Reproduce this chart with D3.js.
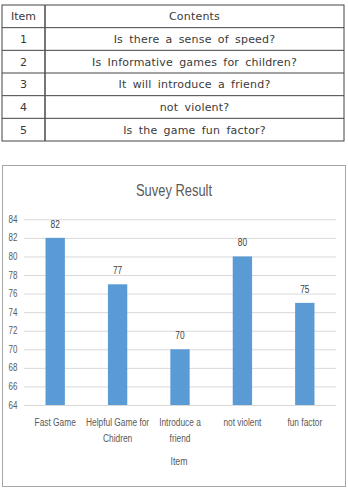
<!DOCTYPE html>
<html>
  <head>
    <meta charset="utf-8">
    <title>Suvey Result</title>
    <style>
      body { margin: 0; background: #fff; }
    </style>
  </head>
  <body>
    <script src="https://cdn.jsdelivr.net/npm/d3@7"></script>
    <script type="text/javascript">
      var itemNos = ["1", "2", "3", "4", "5"];
      var questions = [
        "Is there a sense of speed?",
        "Is Informative games for children?",
        "It will introduce a friend?",
        "not violent?",
        "Is the game fun factor?"
      ];
      var categories = [
        ["Fast Game"],
        ["Helpful Game for", "Chidren"],
        ["Introduce a", "friend"],
        ["not violent"],
        ["fun factor"]
      ];
      var values = [82, 77, 70, 80, 75];
      var yTicks = [64, 66, 68, 70, 72, 74, 76, 78, 80, 82, 84];

      var width = 348, height = 488;
      var svg = d3.select("body").append("svg")
                  .attr("width", width)
                  .attr("height", height);

      // ---- table ----
      var tFont = "'DejaVu Sans', sans-serif";
      var rowY = d3.scaleBand().domain(d3.range(6)).range([5, 141]);
      var tl = 2, tr = 344, tdiv = 45;
      var table = svg.append("g");
      table.append("rect")
           .attr("x", tl).attr("y", 5)
           .attr("width", tr - tl).attr("height", 136)
           .attr("fill", "none").attr("stroke", "#444").attr("stroke-width", 1);
      table.selectAll("line.h")
           .data(d3.range(1, 6))
           .enter().append("line")
           .attr("x1", tl).attr("x2", tr)
           .attr("y1", function(d) { return rowY(d); })
           .attr("y2", function(d) { return rowY(d); })
           .attr("stroke", "#444");
      table.append("line")
           .attr("x1", tdiv).attr("x2", tdiv)
           .attr("y1", 5).attr("y2", 141)
           .attr("stroke", "#555").attr("stroke-width", 1.6);

      var rows = [["Item", "Contents"]].concat(itemNos.map(function(n, i) { return [n, questions[i]]; }));
      var tr_ = table.selectAll("g.row").data(rows).enter().append("g")
           .attr("transform", function(d, i) { return "translate(0," + (rowY(i) + rowY.bandwidth() / 2) + ")"; });
      tr_.append("text")
         .attr("x", (tl + tdiv) / 2)
         .attr("dy", "0.36em")
         .attr("text-anchor", "middle")
         .attr("font-family", tFont).attr("font-size", 11)
         .attr("fill", "#3a3a3a")
         .text(function(d) { return d[0]; });
      tr_.append("text")
         .attr("x", (tdiv + tr) / 2)
         .attr("dy", "0.36em")
         .attr("text-anchor", "middle")
         .attr("font-family", tFont).attr("font-size", 11)
         .attr("letter-spacing", 0.2)
         .attr("word-spacing", 2.5)
         .attr("fill", "#3a3a3a")
         .text(function(d) { return d[1]; });

      // ---- chart ----
      // narrow Calibri-like look: Liberation Sans squeezed horizontally
      var cFont = "'Liberation Sans', Arial, sans-serif";
      var squeeze = 0.76;
      function narrowText(g, x, y, size, color, txt) {
        return g.append("text")
          .attr("transform", "translate(" + x + "," + y + ") scale(" + squeeze + ",1)")
          .attr("text-anchor", "middle")
          .attr("font-family", cFont).attr("font-size", size)
          .attr("fill", color)
          .text(txt);
      }

      svg.append("rect")
         .attr("x", 2.5).attr("y", 165.5)
         .attr("width", 343).attr("height", 321)
         .attr("fill", "#fff").attr("stroke", "#a6a6a6");

      narrowText(svg, 174, 196, 17, "#595959", "Suvey Result");

      var x = d3.scaleBand().domain(d3.range(values.length)).range([24, 336]).paddingInner(0.69).paddingOuter(0.345);
      var y = d3.scaleLinear().domain([64, 84]).range([405, 219.3]);

      var grid = svg.append("g")
          .attr("transform", "translate(24,0)")
          .call(d3.axisLeft(y).tickValues(yTicks).tickSize(-312).tickPadding(6).tickFormat(function() { return ""; }));
      grid.select(".domain").remove();
      grid.selectAll(".tick line").attr("stroke", "#d9d9d9");

      var yl = svg.append("g");
      yTicks.forEach(function(t) {
        narrowText(yl, 13, y(t) + 3.5, 10.5, "#595959", t);
      });

      svg.append("g").selectAll("rect")
         .data(values).enter().append("rect")
         .attr("x", function(d, i) { return x(i); })
         .attr("width", x.bandwidth())
         .attr("y", function(d) { return y(d); })
         .attr("height", function(d) { return y(64) - y(d); })
         .attr("fill", "#5b9bd5");

      var vl = svg.append("g");
      values.forEach(function(v, i) {
        narrowText(vl, x(i) + x.bandwidth() / 2, y(v) - 10, 11, "#404040", v);
      });

      var xl = svg.append("g");
      categories.forEach(function(lines, i) {
        lines.forEach(function(s, j) {
          narrowText(xl, x(i) + x.bandwidth() / 2, 426 + j * 15.5, 11, "#595959", s);
        });
      });

      narrowText(svg, 179, 465, 11.5, "#595959", "Item");
    </script>
  </body>
</html>
